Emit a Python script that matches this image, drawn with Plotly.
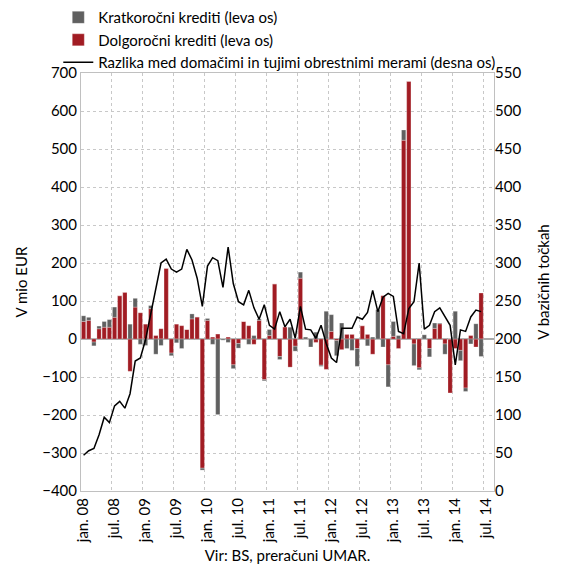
import plotly.graph_objects as go

# Monthly data jan.08 .. jun.14 (axis extends to aug.14)
months = ["jan", "feb", "mar", "apr", "maj", "jun", "jul", "avg", "sep", "okt", "nov", "dec"]
years = ["08", "09", "10", "11", "12", "13", "14"]
categories = [f"{m}. {y}" for y in years for m in months][:80]

short_term = [15, 8, -10, 7, 15, 20, 27, 0, 0, 39, 23, -14,
              -17, 8, -40, -17, 0, -7, -10, -25, 0, 13, 0, -5,
              5, -14, -199, -3, -9, -10, -12, 0, -14, 9, 4, -3,
              16, 0, -8, 0, 31, -13, 16, 5, -21, 18, -3, 73,
              44, -40, 42, -25, -30, -47, 0, -18, 5, 77, -21, -58,
              39, 9, 27, 0, -57, -5, 11, -22, 14, 2, -27, 0,
              73, -27, -9, -13, 40, -46]

long_term = [46, 49, -8, 27, 31, 31, 57, 114, 123, -85, 84, 69,
             39, 80, 9, 27, 186, -37, 39, 35, 25, 53, 58, -340,
             49, 5, 13, 0, 5, -68, -12, 46, 35, -14, 49, -107,
             9, 145, -46, 32, -74, -19, 160, 0, 0, -9, -69, -80,
             20, -4, -28, 12, 12, -25, 35, 12, -40, 0, 114, -68,
             7, -25, 523, 678, -13, -76, 0, -25, 28, 40, -13, -142,
             -25, -30, -129, 9, -21, 121]

spread = [47, 53, 56, 74, 97, 90, 112, 118, 109, 128, 171, 175,
          199, 234, 267, 300, 305, 292, 288, 292, 318, 304, 280, 243,
          296, 307, 303, 268, 321, 273, 249, 245, 264, 241, 226, 245,
          218, 213, 236, 216, 226, 201, 243, 213, 212, 201, 218, 194,
          175, 169, 214, 214, 214, 229, 226, 235, 264, 236, 255, 260,
          256, 210, 207, 240, 249, 300, 213, 218, 236, 241, 230, 218,
          166, 212, 210, 229, 238, 236]

tick_idx = list(range(0, 80, 6))
tick_text = [categories[i] for i in tick_idx]

x = list(range(len(spread)))

GREY = "#606060"
RED = "#a11c23"
FONT = "Lato"

fig = go.Figure()
fig.add_trace(go.Bar(x=x, y=long_term, name="Dolgoročni krediti (leva os)",
                     marker=dict(color=RED, line=dict(color="rgba(255,255,255,0.5)", width=0.5)),
                     legendrank=2))
fig.add_trace(go.Bar(x=x, y=short_term, name="Kratkoročni krediti (leva os)",
                     marker=dict(color=GREY, line=dict(color="rgba(255,255,255,0.5)", width=0.5)),
                     legendrank=1))
fig.add_trace(go.Scatter(x=x, y=spread, name="Razlika med domačimi in tujimi obrestnimi merami (desna os)",
                         mode="lines", line=dict(color="black", width=1.5), yaxis="y2",
                         legendrank=3))

fig.update_layout(
    width=556, height=560,
    margin=dict(l=73, r=70, t=65, b=77, autoexpand=False),
    paper_bgcolor="white", plot_bgcolor="white",
    barmode="relative", bargap=0.17,
    font=dict(family=FONT, size=15, color="black"),
    showlegend=True,
    legend=dict(x=-0.055, y=1.172, xanchor="left", yanchor="top",
                orientation="v", traceorder="normal",
                font=dict(size=15), tracegroupgap=0, itemwidth=30,
                bgcolor="rgba(0,0,0,0)"),
    xaxis=dict(range=[-0.5, 79.5], tickmode="array", tickvals=tick_idx, ticktext=tick_text,
               tickangle=-90, showgrid=False, zeroline=False, ticks="",
               showline=True, linecolor="#c0c0c0", linewidth=1, mirror=True,
               minor=dict(tick0=5.5, dtick=6, showgrid=True, gridcolor="#c8c8c8",
                          griddash="dot", gridwidth=1, ticks=""),
               tickfont=dict(size=15),
               title=dict(text="Vir: BS, preračuni UMAR.", font=dict(size=15), standoff=8)),
    yaxis=dict(range=[-400, 700], dtick=100, showgrid=True, gridcolor="#c8c8c8",
               griddash="dot", zeroline=True, zerolinecolor="#a8a8a8", zerolinewidth=2,
               showline=True, linecolor="#c0c0c0", linewidth=1, mirror=True,
               ticks="", tickfont=dict(size=15),
               title=dict(text="V mio EUR", font=dict(size=15), standoff=10)),
    yaxis2=dict(range=[0, 550], dtick=50, overlaying="y", side="right",
                showgrid=False, zeroline=False, ticks="", tickfont=dict(size=15),
                title=dict(text="V bazičnih točkah", font=dict(size=15), standoff=18)),
)

fig.write_html("out.html")
